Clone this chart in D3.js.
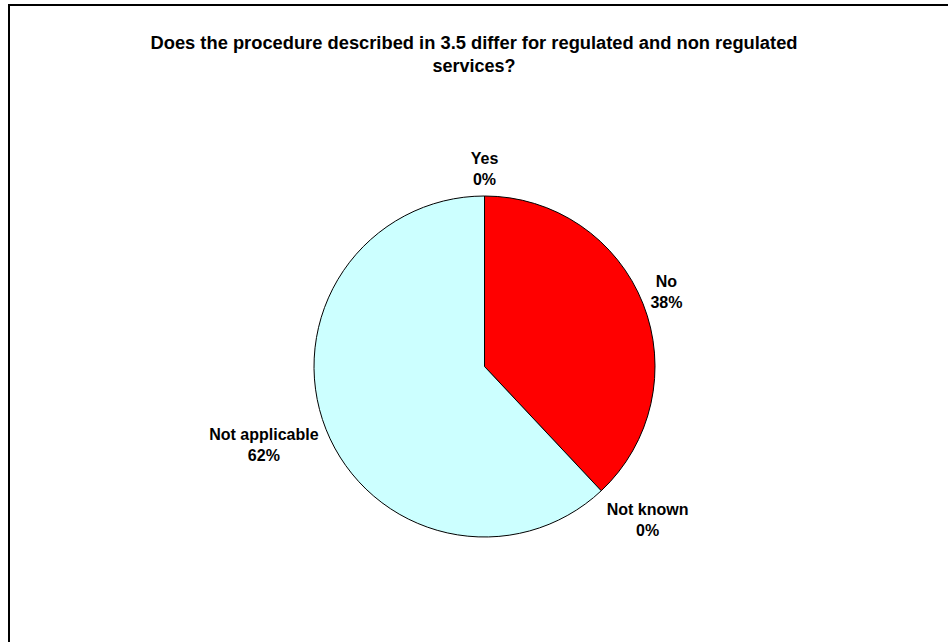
<!DOCTYPE html>
<html>
<head>
<meta charset="utf-8">
<script src="https://cdn.jsdelivr.net/npm/d3@7"></script>
<style>
  html, body { margin: 0; padding: 0; background: #fff; }
  svg { display: block; }
  text { font-family: "Liberation Sans", Arial, sans-serif; font-weight: bold; fill: #000; }
</style>
</head>
<body>
<svg id="chart" width="948" height="642"></svg>
<script>
const titleLines = ["Does the procedure described in 3.5 differ for regulated and non regulated", "services?"];
const categories = ["Yes", "No", "Not known", "Not applicable"];
const values = [0, 38, 0, 62];
const colors = ["#9999FF", "#FF0000", "#FFFFCC", "#CCFFFF"];

const W = 948, H = 642;
const svg = d3.select("#chart");

// frame (extends past the right/bottom edges like the reference)
svg.append("rect")
  .attr("x", 9).attr("y", 5)
  .attr("width", W + 20).attr("height", H + 20)
  .attr("fill", "#fff").attr("stroke", "#000").attr("stroke-width", 2);

// title
const title = svg.append("text")
  .attr("text-anchor", "middle")
  .style("font-size", "18px");
titleLines.forEach((t, i) => {
  const ts = title.append("tspan").attr("x", 474).attr("y", 49 + i * 23).text(t);
  if (i === 0) ts.attr("textLength", 647).attr("lengthAdjust", "spacingAndGlyphs");
});

const cx = 484.5, cy = 366.5, r = 170.5;
const g = svg.append("g").attr("transform", `translate(${cx},${cy})`);

const data = categories.map((c, i) => ({ name: c, value: values[i], color: colors[i] }));
const pie = d3.pie().sort(null).value(d => d.value);
const arcs = pie(data);
const arc = d3.arc().innerRadius(0).outerRadius(r);

g.selectAll("path.slice")
  .data(arcs.filter(a => a.data.value > 0))
  .join("path")
  .attr("class", "slice")
  .attr("d", arc)
  .attr("fill", d => d.data.color)
  .attr("stroke", "#000")
  .attr("stroke-width", 1)
  .attr("stroke-linejoin", "round");

// labels
const total = d3.sum(values);
const pad = 8, k = 1.4, lineH = 21, fs = 16;
const clamp = v => Math.max(-1, Math.min(1, v));
arcs.forEach(a => {
  const mid = (a.startAngle + a.endAngle) / 2;
  const s = Math.sin(mid), c = -Math.cos(mid);
  const lines = [a.data.name, Math.round(a.data.value / total * 100) + "%"];
  const t = g.append("text").attr("text-anchor", "middle").style("font-size", fs + "px");
  lines.forEach(l => t.append("tspan").text(l));
  const w = d3.max(t.selectAll("tspan").nodes(), n => n.getComputedTextLength());
  const h = lineH * 2;
  const bx = (r + pad) * s + (w / 2) * clamp(s * k * 1.1);
  const by = (r + pad) * c + (h / 2) * clamp(c * k);
  t.selectAll("tspan")
    .attr("x", bx)
    .attr("y", (d, i) => by - h / 2 + 18 + i * lineH);
});
</script>
</body>
</html>
